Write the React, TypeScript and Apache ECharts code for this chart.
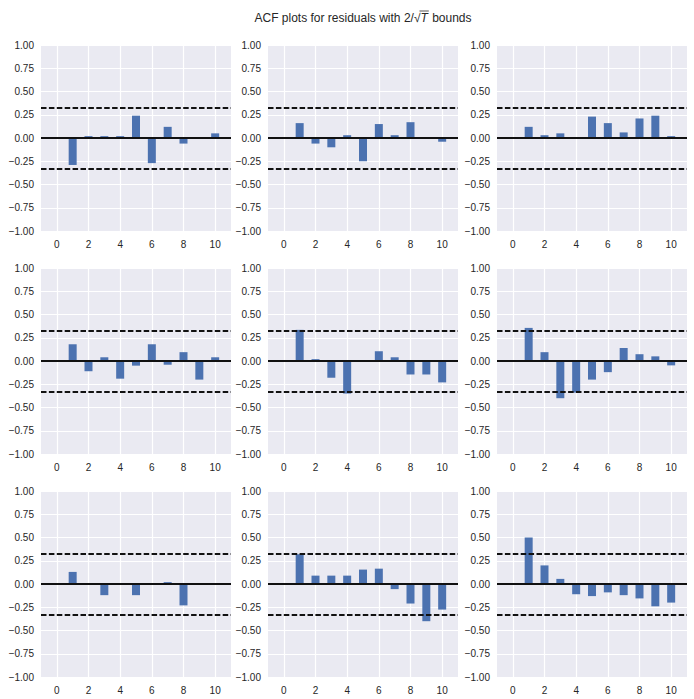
import React, { useEffect, useRef } from "react";
import * as echarts from "echarts";

const lags = [1, 2, 3, 4, 5, 6, 7, 8, 9, 10];
const acfA = [-0.29, 0.02, 0.02, 0.02, 0.24, -0.27, 0.12, -0.06, 0.0, 0.05];
const acfB = [0.16, -0.06, -0.1, 0.03, -0.25, 0.15, 0.03, 0.17, 0.0, -0.04];
const acfC = [0.12, 0.03, 0.05, 0.005, 0.23, 0.16, 0.06, 0.21, 0.24, 0.02];
const acfD = [0.18, -0.11, 0.04, -0.19, -0.05, 0.18, -0.04, 0.095, -0.2, 0.04];
const acfE = [0.335, 0.02, -0.18, -0.35, 0.0, 0.105, 0.04, -0.145, -0.145, -0.23];
const acfF = [0.356, 0.095, -0.4, -0.34, -0.2, -0.12, 0.14, 0.073, 0.05, -0.047];
const acfG = [0.13, 0.0, -0.12, 0.0, -0.12, -0.005, 0.02, -0.23, 0.0, 0.0];
const acfH = [0.32, 0.09, 0.09, 0.09, 0.155, 0.165, -0.055, -0.21, -0.4, -0.275];
const acfI = [0.5, 0.2, 0.055, -0.11, -0.13, -0.09, -0.12, -0.155, -0.24, -0.2];
const panels = [acfA, acfB, acfC, acfD, acfE, acfF, acfG, acfH, acfI];
const nObs = 36;
const bound = 2 / Math.sqrt(nObs);
const xTicks = [0, 2, 4, 6, 8, 10];

const TITLE_PARTS = ["ACF plots for residuals with 2/", "\u221A", "T", " bounds"];

const FONT = "'Liberation Sans', Arial, sans-serif";

export default function App() {
  const ref = useRef<HTMLDivElement>(null);
  useEffect(() => {
    document.body.style.margin = "0";
    if (!ref.current) return;
    const chart = echarts.init(ref.current, undefined, { renderer: "svg" });

    const colLeft = [41, 268, 497];
    const rowTop = [45, 268, 491];
    const W = 190;
    const H = 186;

    const grids: any[] = [];
    const xAxes: any[] = [];
    const yAxes: any[] = [];
    const series: any[] = [];

    panels.forEach((vals, i) => {
      const r = Math.floor(i / 3);
      const c = i % 3;
      grids.push({
        left: colLeft[c],
        top: rowTop[r],
        width: W,
        height: H,
        show: true,
        backgroundColor: "#EAEAF2",
        borderWidth: 0,
      });
      xAxes.push({
        type: "value",
        gridIndex: i,
        min: -1,
        max: 11,
        interval: 1,
        axisLine: { show: false },
        axisTick: { show: false },
        splitLine: { show: false },
        axisLabel: {
          margin: 8,
          fontSize: 10,
          color: "#262626",
          fontFamily: FONT,
          formatter: (v: number) => (v % 2 === 0 && v >= 0 && v <= 10 ? String(v) : ""),
        },
      });
      yAxes.push({
        type: "value",
        gridIndex: i,
        min: -1,
        max: 1,
        interval: 0.25,
        axisLine: { show: false },
        axisTick: { show: false },
        splitLine: { show: true, lineStyle: { color: "#ffffff", width: 1.2 } },
        axisLabel: {
          margin: 7,
          fontSize: 10,
          color: "#262626",
          fontFamily: FONT,
          formatter: (v: number) => v.toFixed(2).replace("-", "\u2212"),
        },
      });
      const data = lags.map((l, j) => [l, vals[j]]);
      // vertical grid lines
      series.push({
        type: "line",
        xAxisIndex: i,
        yAxisIndex: i,
        data,
        symbol: "none",
        lineStyle: { opacity: 0 },
        silent: true,
        z: 1,
        markLine: {
          z: 1,
          silent: true,
          symbol: ["none", "none"],
          label: { show: false },
          lineStyle: { color: "#ffffff", width: 1.2, type: "solid" },
          data: xTicks.map((v) => ({ xAxis: v })),
        },
      });
      series.push({
        type: "bar",
        xAxisIndex: i,
        yAxisIndex: i,
        data,
        barWidth: 8,
        silent: true,
        z: 2,
        itemStyle: { color: "#4C72B0" },
        markLine: {
          z: 5,
          silent: true,
          symbol: ["none", "none"],
          label: { show: false },
          data: [
            { yAxis: 0, lineStyle: { color: "#111111", width: 2, type: "solid" } },
            { yAxis: bound, lineStyle: { color: "#111111", width: 1.8, type: [5.5, 2.4] } },
            { yAxis: -bound, lineStyle: { color: "#111111", width: 1.8, type: [5.5, 2.4] } },
          ],
        },
      });
    });

    // title with math-ish 2/sqrt(T)
    const cv = document.createElement("canvas").getContext("2d")!;
    const normalFont = "12px " + FONT;
    const italicFont = "italic 12px " + FONT;
    cv.font = normalFont;
    const w0 = cv.measureText(TITLE_PARTS[0]).width;
    const w1 = cv.measureText(TITLE_PARTS[1]).width;
    const w3 = cv.measureText(TITLE_PARTS[3]).width;
    cv.font = italicFont;
    const w2 = cv.measureText(TITLE_PARTS[2]).width + 1;
    const total = w0 + w1 + w2 + w3;
    const cx = 363;
    const ty = 18;
    const x0 = cx - total / 2;
    const titleChildren: any[] = [
      { type: "text", x: x0, y: ty, style: { text: TITLE_PARTS[0], font: normalFont, fill: "#262626", textAlign: "left", textVerticalAlign: "middle" } },
      { type: "text", x: x0 + w0, y: ty, style: { text: TITLE_PARTS[1], font: normalFont, fill: "#262626", textAlign: "left", textVerticalAlign: "middle" } },
      { type: "text", x: x0 + w0 + w1, y: ty, style: { text: TITLE_PARTS[2], font: italicFont, fill: "#262626", textAlign: "left", textVerticalAlign: "middle" } },
      { type: "text", x: x0 + w0 + w1 + w2, y: ty, style: { text: TITLE_PARTS[3], font: normalFont, fill: "#262626", textAlign: "left", textVerticalAlign: "middle" } },
      { type: "line", shape: { x1: x0 + w0 + w1 - 1, y1: ty - 7, x2: x0 + w0 + w1 + w2, y2: ty - 7 }, style: { stroke: "#262626", lineWidth: 0.8 } },
    ];

    chart.setOption({
      animation: false,
      grid: grids,
      xAxis: xAxes,
      yAxis: yAxes,
      series,
      graphic: [{ type: "group", children: titleChildren }],
    });
    return () => chart.dispose();
  }, []);
  return <div ref={ref} style={{ position: "absolute", left: 0, top: 0, width: 694, height: 699 }} />;
}
